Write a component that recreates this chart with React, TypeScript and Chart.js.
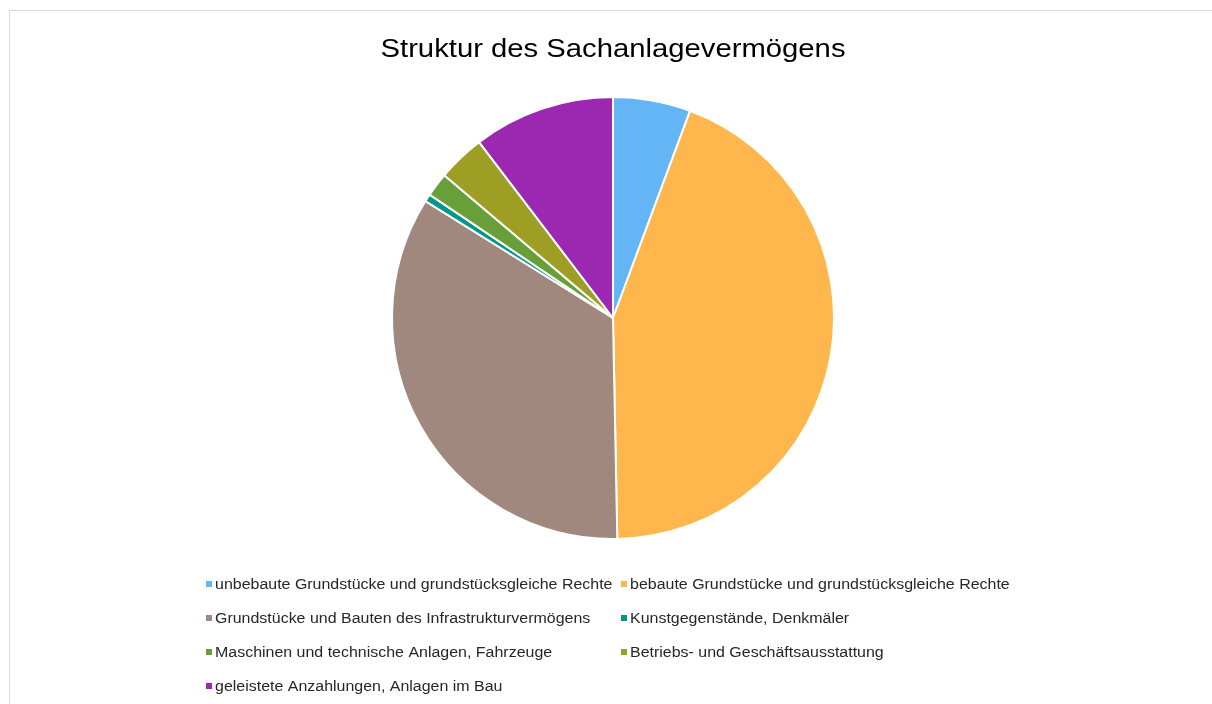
import React, { useEffect, useRef } from "react";
import { Chart, registerables } from "chart.js";

Chart.register(...registerables);

const chartTitle = "Struktur des Sachanlagevermögens";

const categories = [
  "unbebaute Grundstücke und grundstücksgleiche Rechte",
  "bebaute Grundstücke und grundstücksgleiche Rechte",
  "Grundstücke und Bauten des Infrastrukturvermögens",
  "Kunstgegenstände, Denkmäler",
  "Maschinen und technische Anlagen, Fahrzeuge",
  "Betriebs- und Geschäftsausstattung",
  "geleistete Anzahlungen, Anlagen im Bau",
];

const shares = [5.67, 44.03, 34.19, 0.55, 1.75, 3.47, 10.36];

const sliceColors = [
  "#64B5F6",
  "#FFB74D",
  "#A1887F",
  "#009688",
  "#689F38",
  "#9E9D24",
  "#9C27B0",
];

const FONT = "'Liberation Sans', Arial, Helvetica, sans-serif";

const textPlugin = {
  id: "titleAndLegend",
  afterDraw(chart: any) {
    const ctx = chart.ctx as CanvasRenderingContext2D;
    // Title
    ctx.save();
    ctx.font = `25px ${FONT}`;
    ctx.fillStyle = "#000000";
    ctx.textAlign = "center";
    ctx.textBaseline = "alphabetic";
    ctx.translate(613, 57);
    ctx.scale(1.17, 1);
    ctx.fillText(chartTitle, 0, 0);
    ctx.restore();

    // Legend (two-column grid)
    const labels: string[] = chart.data.labels;
    const bg: string[] = chart.data.datasets[0].backgroundColor;
    ctx.save();
    ctx.font = `14px ${FONT}`;
    ctx.textAlign = "left";
    ctx.textBaseline = "alphabetic";
    labels.forEach((lbl, i) => {
      const col = i % 2;
      const row = Math.floor(i / 2);
      const x = 206 + col * 415;
      const y = 584 + row * 34;
      ctx.fillStyle = bg[i];
      ctx.fillRect(x, y - 3, 6, 6);
      ctx.save();
      ctx.translate(x + 9, y + 5);
      ctx.scale(1.14, 1);
      ctx.fillStyle = "#262626";
      ctx.fillText(lbl, 0, 0);
      ctx.restore();
    });
    ctx.restore();
  },
};

export default function App() {
  const canvasRef = useRef<HTMLCanvasElement | null>(null);

  useEffect(() => {
    if (!canvasRef.current) return;
    const chart = new Chart(canvasRef.current, {
      type: "pie",
      data: {
        labels: categories,
        datasets: [
          {
            data: shares,
            backgroundColor: sliceColors,
            borderColor: "#FFFFFF",
            borderWidth: 2,
            hoverOffset: 0,
            offset: 0,
          },
        ],
      },
      options: {
        responsive: false,
        animation: false,
        devicePixelRatio: 1,
        layout: { padding: { top: 96, bottom: 164, left: 14, right: 0 } },
        plugins: {
          legend: { display: false },
          title: { display: false },
          tooltip: { enabled: false },
        },
      },
      plugins: [textPlugin],
    });
    return () => chart.destroy();
  }, []);

  return (
    <>
      <div
        style={{
          position: "fixed",
          left: 9,
          top: 10,
          width: 1240,
          height: 740,
          border: "1px solid #D9D9D9",
          boxSizing: "border-box",
          background: "#FFFFFF",
        }}
      />
      <canvas
        ref={canvasRef}
        width={1212}
        height={704}
        style={{ position: "fixed", left: 0, top: 0, width: 1212, height: 704 }}
      />
    </>
  );
}
